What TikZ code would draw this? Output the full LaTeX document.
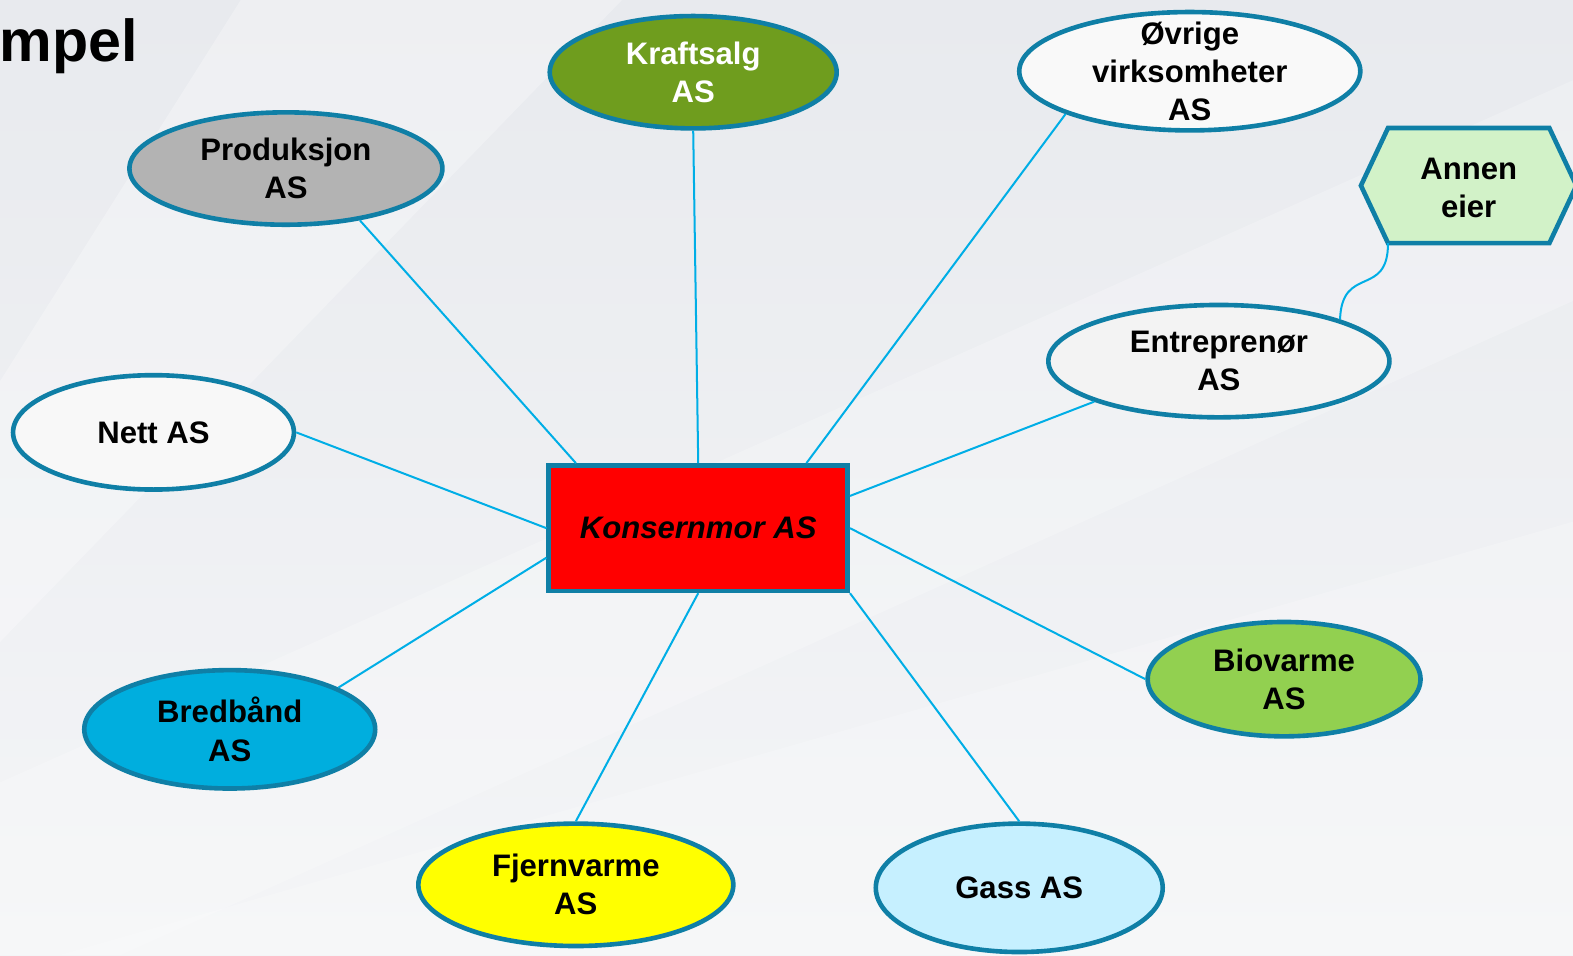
\documentclass[tikz,border=0pt]{standalone}
\usepackage{fontspec}
\setmainfont{Liberation Sans}
\usetikzlibrary{shapes.geometric,calc}
\definecolor{bord}{RGB}{15,127,166}
\definecolor{link}{RGB}{0,174,230}
\definecolor{bgtop}{RGB}{232,234,238}
\definecolor{bgbot}{RGB}{244,245,247}
\definecolor{cKraft}{RGB}{111,157,30}
\definecolor{cProd}{RGB}{179,179,179}
\definecolor{cOvr}{RGB}{249,249,249}
\definecolor{cAnnen}{RGB}{210,242,200}
\definecolor{cEntr}{RGB}{243,243,243}
\definecolor{cNett}{RGB}{248,248,248}
\definecolor{cBred}{RGB}{0,174,222}
\definecolor{cFjern}{RGB}{255,255,0}
\definecolor{cGass}{RGB}{198,240,255}
\definecolor{cBio}{RGB}{146,208,80}
\begin{document}
\begin{tikzpicture}[x=0.5pt,y=-0.5pt,
  txt/.style={font=\bfseries\fontsize{15.5}{19}\selectfont, align=center},
  ell/.style={ellipse, draw=bord, line width=2.3pt, inner sep=0pt, txt},
  conn/.style={draw=link, line width=1pt}]
\useasboundingbox (0,0) rectangle (1568,952);
\clip (0,0) rectangle (1568,952);
% background
\shade[top color=bgtop, bottom color=bgbot] (0,0) rectangle (1568,952);
\fill[white, opacity=0.28] (0,380) -- (240,0) -- (620,0) -- (0,640) -- cycle;
\fill[white, opacity=0.22] (0,780) -- (1568,80) -- (1568,300) -- (120,952) -- (0,952) -- cycle;
\fill[white, opacity=0.2] (60,952) -- (1568,520) -- (1568,952) -- cycle;
% title fragment
\node[anchor=base west, inner sep=0pt, font=\bfseries\fontsize{29.5}{34}\selectfont] (title) at (-1,61) {mpel};
% nodes
\node[draw=bord, fill=red, line width=2.3pt, minimum width=149pt, minimum height=62.5pt, inner sep=0pt,
      font=\bfseries\itshape\fontsize{15.5}{19}\selectfont] (km) at (696,526.5) {Konsernmor AS};
\node[ell, fill=cKraft, text=white, minimum width=143pt, minimum height=56pt] (kraft) at (691,72) {Kraftsalg\\AS};
\node[ell, fill=cProd, minimum width=156pt, minimum height=56pt] (prod) at (285,168) {Produksjon\\AS};
\node[ell, fill=cOvr, inner ysep=-12pt, minimum width=170pt, minimum height=59pt] (ovr) at (1186,71) {Øvrige\\virksomheter\\AS};
\node[ell, fill=cEntr, minimum width=170pt, minimum height=56pt] (entr) at (1215,360) {Entreprenør\\AS};
\node[ell, fill=cNett, minimum width=140pt, minimum height=57pt] (nett) at (153,431) {Nett AS};
\node[ell, fill=cBred, minimum width=145pt, minimum height=59pt] (bred) at (229,727) {Bredbånd\\AS};
\node[ell, fill=cFjern, minimum width=157pt, minimum height=61pt] (fjern) at (574,882) {Fjernvarme\\AS};
\node[ell, fill=cGass, minimum width=143pt, minimum height=64pt] (gass) at (1016,885) {Gass AS};
\node[ell, fill=cBio, minimum width=136pt, minimum height=57pt] (bio) at (1280,677) {Biovarme\\AS};
% hexagon
\node[txt, minimum width=80pt, minimum height=57pt, inner sep=0pt] (annen) at (1464,185) {};
\filldraw[fill=cAnnen, draw=bord, line width=2.3pt, line join=miter]
  (annen.north west) -- (annen.north east) -- ($(annen.east)+(27,0)$) -- (annen.south east)
  -- (annen.south west) -- ($(annen.west)+(-27,0)$) -- cycle;
\node[txt, inner sep=0pt] (annentxt) at ($(annen.center)+(0,2)$) {Annen\\eier};
% connectors
\draw[conn] (prod.-35.6) -- (km.152.7);
\draw[conn] (kraft.south) -- (km.north);
\draw[conn] (ovr.199.1) -- (km.31.5);
\draw[conn] (entr.198.85) -- (km.12.3);
\draw[conn] (nett.east) -- (km.west);
\draw[conn] (bred.21.5) -- (km.191.6);
\draw[conn] (fjern.north) -- (km.south);
\draw[conn] (gass.north) -- (km.south east);
\draw[conn] (bio.west) -- (km.east);
\draw[conn] (annen.south west) .. controls +(0,55) and +(2,-55) .. (entr.19.1);
\end{tikzpicture}
\end{document}
